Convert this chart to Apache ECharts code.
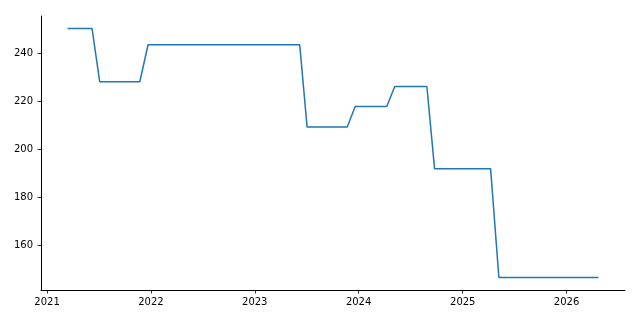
<!DOCTYPE html>
<html>
<head>
<meta charset="utf-8">
<script src="https://cdn.jsdelivr.net/npm/echarts@6/dist/echarts.min.js"></script>
<style>
html,body{margin:0;padding:0;background:#fff;}
#chart{width:640px;height:320px;}
</style>
</head>
<body>
<div id="chart"></div>
<script>
// Data
var dates = ['2021-03-14','2021-06-08','2021-07-05','2021-11-23','2021-12-22','2023-06-08','2023-07-04','2023-11-22','2023-12-20','2024-04-09','2024-05-07','2024-08-28','2024-09-24','2025-04-09','2025-05-08','2026-04-23'];
var values = [250.2,250.2,228.0,228.0,243.4,243.4,209.1,209.1,217.7,217.7,226.0,226.0,191.7,191.7,146.4,146.4];
var yTicks = [160,180,200,220,240];
var xTickYears = [2021,2022,2023,2024,2025,2026];

var times = dates.map(function(d){ return new Date(d + 'T00:00:00Z').getTime(); });
var seriesData = times.map(function(t,i){ return [t, values[i]]; });

var tMin = Math.min.apply(null, times), tMax = Math.max.apply(null, times);
var tPad = (tMax - tMin) * 0.05;
var vMin = Math.min.apply(null, values), vMax = Math.max.apply(null, values);
var vPad = (vMax - vMin) * 0.05;
var xTickVals = xTickYears.map(function(y){ return Date.UTC(y,0,1); });

var font = 'DejaVu Sans';
var chart = echarts.init(document.getElementById('chart'), null, {renderer:'canvas'});
chart.setOption({
  animation: false,
  grid: {left: 41, right: 15, top: 16, bottom: 30, containLabel: false},
  xAxis: {
    type: 'value',
    min: tMin - tPad,
    max: tMax + tPad,
    axisLine: {show: true, lineStyle: {color: '#000', width: 1}},
    axisTick: {show: true, length: 3.5, lineStyle: {color: '#000', width: 0.8}, customValues: xTickVals},
    axisLabel: {
      customValues: xTickVals,
      color: '#000', fontFamily: font, fontSize: 10, margin: 7.5,
      formatter: function(v){ return String(new Date(v).getUTCFullYear()); },
      hideOverlap: false
    },
    splitLine: {show: false}
  },
  yAxis: {
    type: 'value',
    min: vMin - vPad,
    max: vMax + vPad,
    axisLine: {show: true, lineStyle: {color: '#000', width: 1}},
    axisTick: {show: true, length: 3.5, lineStyle: {color: '#000', width: 0.8}, customValues: yTicks},
    axisLabel: {customValues: yTicks, color: '#000', fontFamily: font, fontSize: 10, margin: 8},
    splitLine: {show: false}
  },
  series: [{
    type: 'line',
    data: seriesData,
    showSymbol: false,
    symbol: 'none',
    lineStyle: {color: '#1f77b4', width: 1.5},
    clip: false
  }]
});
</script>
</body>
</html>
